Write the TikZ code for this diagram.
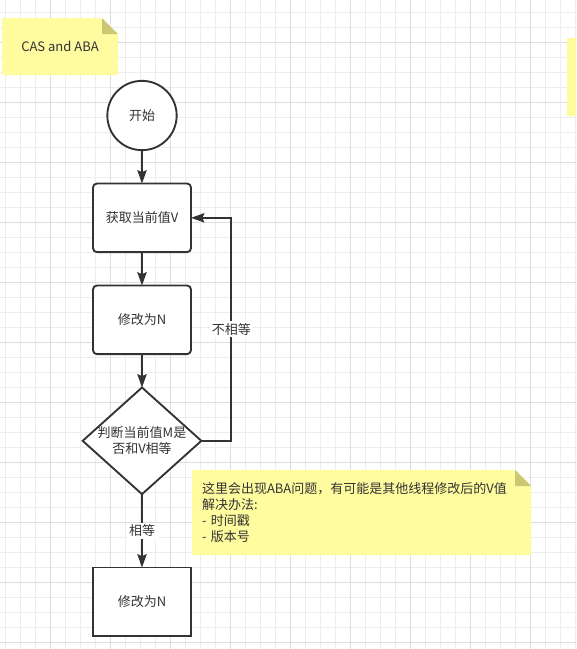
\documentclass[tikz,border=0pt]{standalone}
\usepackage{fontspec}
\setmainfont{Noto Sans CJK SC}
\usepackage{tikz}
\usetikzlibrary{arrows.meta, positioning, shapes.geometric}
\definecolor{FlowLine}{HTML}{333333}
\definecolor{FlowText}{HTML}{333333}
\definecolor{NoteFill}{HTML}{FFFB9F}
\definecolor{NoteFold}{HTML}{CBC773}
\definecolor{GridMinor}{HTML}{EDEDED}
\definecolor{GridMajor}{HTML}{DEDEDE}

\begin{document}
\begin{tikzpicture}[
    x=0.75pt, y=-0.75pt,
    txt/.style={font=\fontsize{9.75pt}{12pt}\selectfont, text=FlowText},
    startnode/.style={circle, draw=FlowLine, line width=1.4pt, fill=white,
      minimum size=52pt, inner sep=0pt, outer sep=0pt, txt},
    stepbox/.style={rectangle, rounded corners=3pt, draw=FlowLine, line width=1.4pt,
      fill=white, minimum width=73.5pt, minimum height=51.5pt, inner sep=0pt,
      outer sep=0pt, txt},
    plainbox/.style={stepbox, rounded corners=0pt},
    decision/.style={diamond, draw=FlowLine, line width=1.4pt, fill=white,
      minimum width=89pt, minimum height=80pt, inner sep=0pt, outer sep=0pt},
    note/.style={inner sep=0pt, txt, path picture={
        \fill[NoteFill] (path picture bounding box.south west)
          -- (path picture bounding box.north west)
          -- ([xshift=-12pt]path picture bounding box.north east)
          -- ([yshift=-12pt]path picture bounding box.north east)
          -- (path picture bounding box.south east) -- cycle;
        \fill[NoteFold] ([xshift=-12pt]path picture bounding box.north east)
          -- ([xshift=-12pt,yshift=-12pt]path picture bounding box.north east)
          -- ([yshift=-12pt]path picture bounding box.north east) -- cycle;
      }},
    arr/.style={-{Stealth[length=10pt, width=7pt, inset=1.5pt]}, line width=1.4pt, color=FlowLine},
    lbl/.style={fill=white, inner sep=1.5pt, txt}
  ]
    \useasboundingbox (0,0) rectangle (576,649);
    \fill[white] (0,0) rectangle (576,649);
    \foreach \gx in {5,20,...,575} \draw[GridMinor, line width=0.75pt] (\gx,0) -- (\gx,649);
    \foreach \gy in {12.3,27.3,...,645} \draw[GridMinor, line width=0.75pt] (0,\gy) -- (576,\gy);
    \foreach \gx in {50,110,...,575} \draw[GridMajor, line width=0.75pt] (\gx,0) -- (\gx,649);
    \foreach \gy in {42.3,102.3,...,645} \draw[GridMajor, line width=0.75pt] (0,\gy) -- (576,\gy);

    \node[note, minimum width=87pt, minimum height=42.75pt] (title) at (60,46.7) {CAS and ABA};
    \fill[NoteFill] (567,38.3) rectangle (576,115.7);

    \node[startnode] (start) at (142,115.5) {开始};
    \node[stepbox, below=25pt of start] (fetch) {获取当前值V};
    \node[stepbox, below=25pt of fetch] (modify) {修改为N};
    \node[decision, below=25pt of modify,
      label={[txt, align=center]center:判断当前值M是\\否和V相等}] (check) {};
    \node[plainbox, below=55pt of check] (update) {修改为N};

    \node[note, minimum width=254.25pt, minimum height=63.75pt, text width=239.25pt,
      align=left, inner xsep=7.5pt] (abanote) at (361.5,512.5)
      {这里会出现ABA问题，有可能是其他线程修改后的V值\\解决办法:\\- 时间戳\\- 版本号};

    \draw[arr] (start) -- (fetch);
    \draw[arr] (fetch) -- (modify);
    \draw[arr] (modify) -- (check);
    \draw[arr] (check.east) -- ++(30,0) |- node[pos=0.25, lbl]{不相等} (fetch.east);
    \draw[arr] (check) -- node[lbl]{相等} (update);
  \end{tikzpicture}
\end{document}
